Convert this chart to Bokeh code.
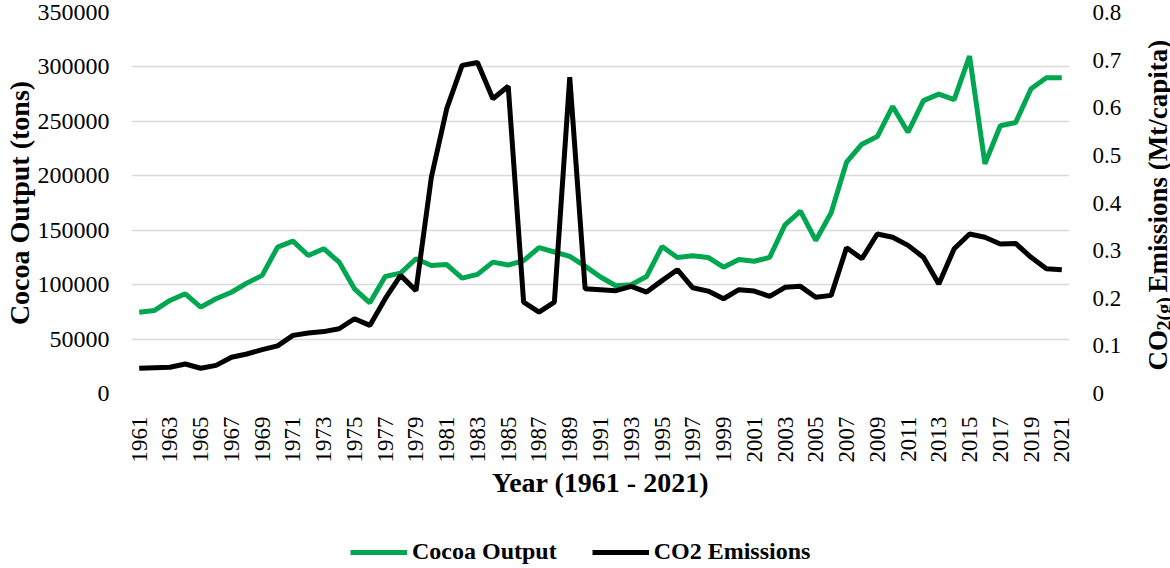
import math
from bokeh.plotting import figure
from bokeh.layouts import row, column
from bokeh.models import (Range1d, LinearAxis, FixedTicker, NumeralTickFormatter,
                          CustomJSTickFormatter, Legend, LegendItem, Label)
from bokeh.embed import file_html
from bokeh.resources import INLINE

years = list(range(1961, 2022))
cocoa = [74700, 76300, 85500, 91600, 79300, 87000, 93000, 101400, 108500, 134500,
         140000, 126800, 133000, 120700, 96200, 83300, 107500, 110600, 123800, 117600,
         118500, 106000, 109400, 120700, 118000, 122000, 134000, 130000, 126000, 117000,
         107000, 99000, 100000, 107500, 135000, 125000, 126500, 125000, 116000, 123000,
         121500, 125000, 155000, 167500, 140600, 166000, 212500, 229000, 236000, 263700,
         240000, 269000, 275000, 270000, 310000, 211000, 246000, 249000, 280000, 290000,
         290000]
co2 = [0.053, 0.054, 0.055, 0.062, 0.053, 0.059, 0.076, 0.083, 0.092, 0.100,
       0.122, 0.127, 0.130, 0.136, 0.157, 0.143, 0.199, 0.248, 0.216, 0.454,
       0.598, 0.689, 0.695, 0.619, 0.645, 0.192, 0.171, 0.192, 0.664, 0.220,
       0.218, 0.216, 0.225, 0.213, 0.237, 0.260, 0.222, 0.215, 0.199, 0.218,
       0.215, 0.204, 0.223, 0.225, 0.202, 0.206, 0.306, 0.283, 0.335, 0.328,
       0.311, 0.286, 0.230, 0.304, 0.335, 0.328, 0.314, 0.315, 0.286, 0.262,
       0.260]
x_ticks = list(range(1961, 2022, 2))
left_ticks = [0, 50000, 100000, 150000, 200000, 250000, 300000, 350000]
right_ticks = [0, 0.1, 0.2, 0.3, 0.4, 0.5, 0.6, 0.7, 0.8]
series_names = ["Cocoa Output", "CO2 Emissions"]

GREEN = "#00A650"
SERIF = "Liberation Serif"
W_MAIN, W_SIDE, H_TOP, H_LEG = 1124, 46, 520, 48
TOP, BOTTOM = 12, 127   # borders shared by the main and side figures

p = figure(width=W_MAIN, height=H_TOP, output_backend="svg", toolbar_location=None,
           x_range=Range1d(1960.5, 2021.5), y_range=Range1d(0, 350000),
           min_border_left=130, min_border_right=54, min_border_top=TOP,
           min_border_bottom=BOTTOM)
p.outline_line_color = None
p.extra_y_ranges = {"co2": Range1d(0, 0.8)}

p.line(years, cocoa, line_color=GREEN, line_width=5)
p.line(years, co2, line_color="black", line_width=5, y_range_name="co2")

p.xgrid.grid_line_color = None
p.ygrid.grid_line_color = "#D9D9D9"
p.ygrid.grid_line_width = 1.5

ya = p.yaxis[0]
ya.ticker = FixedTicker(ticks=left_ticks)
ya.formatter = NumeralTickFormatter(format="0")
ya.axis_label = "Cocoa Output (tons)"

xa = p.xaxis[0]
xa.ticker = FixedTicker(ticks=x_ticks)
xa.major_label_orientation = math.pi / 2
xa.axis_label = "Year (1961 - 2021)"

ra = LinearAxis(y_range_name="co2", ticker=FixedTicker(ticks=right_ticks),
                formatter=CustomJSTickFormatter(code="return tick === 0 ? '0' : tick.toFixed(1);"))
p.add_layout(ra, "right")

for ax in (ya, xa, ra):
    ax.axis_line_color = None
    ax.major_tick_line_color = None
    ax.minor_tick_line_color = None
    ax.major_tick_out = 0
    ax.major_tick_in = 0
    ax.major_label_text_font = SERIF
    ax.major_label_text_font_size = "23px"
    ax.major_label_text_color = "black"
    ax.axis_label_text_font = SERIF
    ax.axis_label_text_font_size = "28px"
    ax.axis_label_text_font_style = "bold"
    ax.axis_label_text_color = "black"

ya.major_label_text_font_size = "24px"
ya.major_label_standoff = 22
ya.axis_label_standoff = 0
xa.major_label_standoff = 23
xa.axis_label_standoff = 1
ra.major_label_standoff = 23

# right-hand axis title (with subscript) in a narrow side figure whose
# frame spans the same rows as the main frame; y range = page pixel rows
s = figure(width=W_SIDE, height=H_TOP, output_backend="svg", toolbar_location=None,
           x_range=Range1d(W_MAIN, W_MAIN + W_SIDE),
           y_range=Range1d(H_TOP - BOTTOM, TOP),
           min_border_left=0, min_border_right=0, min_border_top=TOP,
           min_border_bottom=BOTTOM, x_axis_location=None, y_axis_location=None)
s.outline_line_color = None
s.grid.visible = False
common = dict(angle=math.pi / 2, text_font=SERIF, text_font_style="bold",
              text_color="black", text_baseline="alphabetic", text_align="left")
s.add_layout(Label(x=1157, y=370, text="CO", text_font_size="27px", **common))
s.add_layout(Label(x=1163, y=330, text="2(g)", text_font_size="20px", **common))
s.add_layout(Label(x=1157, y=292, text="Emissions (Mt/capita)", text_font_size="27px", **common))

# legend strip below (one off-range point per key so the key lines get drawn)
lg = figure(width=W_MAIN + W_SIDE, height=H_LEG, output_backend="svg", toolbar_location=None,
            x_range=Range1d(0, 1), y_range=Range1d(0, 1),
            min_border_left=0, min_border_right=0, min_border_top=0, min_border_bottom=0,
            x_axis_location=None, y_axis_location=None)
lg.outline_line_color = None
lg.grid.visible = False
k1 = lg.line(x=[years[0]], y=[cocoa[0]], line_color=GREEN, line_width=5)
k2 = lg.line(x=[years[0]], y=[co2[0] + 10], line_color="black", line_width=5)
legend = Legend(items=[LegendItem(label=series_names[0], renderers=[k1]),
                       LegendItem(label=series_names[1], renderers=[k2])],
                orientation="horizontal", location=(350, 3),
                label_text_font=SERIF, label_text_font_style="bold",
                label_text_font_size="24px", label_text_color="black",
                glyph_width=57, glyph_height=20, label_standoff=5, spacing=35,
                padding=0, margin=0, border_line_color=None,
                background_fill_alpha=0)
lg.add_layout(legend, "center")

layout = column(row(p, s), lg)
open("out.html", "w").write(file_html(layout, INLINE))
